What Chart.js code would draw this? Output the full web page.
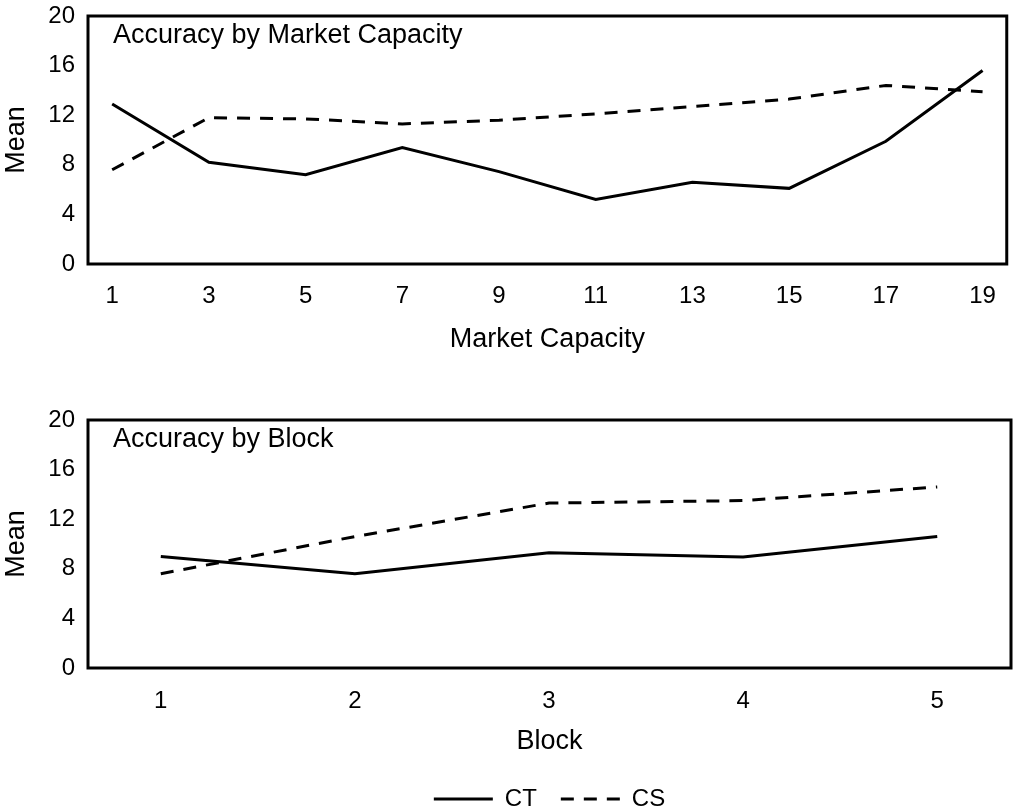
<!DOCTYPE html>
<html>
<head>
<meta charset="utf-8">
<script src="https://cdn.jsdelivr.net/npm/chart.js@4.4.1/dist/chart.umd.min.js"></script>
<style>
  html, body { margin: 0; padding: 0; background: #fff; overflow: hidden; }
  .panel { position: absolute; left: 0; width: 1014px; }
  #topBox { top: 0; height: 356px; }
  #bottomBox { top: 404px; height: 417px; }
</style>
</head>
<body>
<div class="panel" id="topBox"><canvas id="capacityChart"></canvas></div>
<div class="panel" id="bottomBox"><canvas id="blockChart"></canvas></div>
<script>
// values
const capacityLevels = [1, 3, 5, 7, 9, 11, 13, 15, 17, 19];
const ctByCapacity = [12.9, 8.2, 7.2, 9.4, 7.45, 5.2, 6.6, 6.1, 9.9, 15.6];
const csByCapacity = [7.6, 11.8, 11.7, 11.3, 11.6, 12.1, 12.7, 13.3, 14.4, 13.9];

const blocks = [1, 2, 3, 4, 5];
const ctByBlock = [9.0, 7.6, 9.3, 8.95, 10.6];
const csByBlock = [7.6, 10.6, 13.3, 13.5, 14.6];

const meanTicks = [0, 4, 8, 12, 16, 20];

const FONT = "'Liberation Sans', Arial, Helvetica, sans-serif";
Chart.defaults.font.family = FONT;
Chart.defaults.color = '#000';
Chart.defaults.animation = false;

// frame round the plot area + panel title inside it
const framePlugin = {
  id: 'frame',
  afterDatasetsDraw(chart, args, opts) {
    const {ctx, chartArea: a} = chart;
    ctx.save();
    ctx.strokeStyle = '#000';
    ctx.lineWidth = 3;
    ctx.setLineDash([]);
    ctx.strokeRect(a.left, a.top, a.right - a.left, a.bottom - a.top);
    ctx.fillStyle = '#000';
    ctx.font = '27px ' + FONT;
    ctx.textBaseline = 'alphabetic';
    ctx.fillText(opts.text, a.left + 25, a.top + 27);
    ctx.restore();
  }
};

function toPoints(xs, ys) {
  return xs.map((x, i) => ({x: x, y: ys[i]}));
}

function makeDatasets(xs, ct, cs) {
  return [
    {
      label: 'CT',
      data: toPoints(xs, ct),
      borderColor: '#000',
      borderWidth: 3,
      pointRadius: 0,
      tension: 0,
    },
    {
      label: 'CS',
      data: toPoints(xs, cs),
      borderColor: '#000',
      borderWidth: 3,
      borderDash: [13, 10],
      pointRadius: 0,
      tension: 0,
    },
  ];
}

function makeOptions(cfg) {
  return {
    responsive: true,
    maintainAspectRatio: false,
    layout: { padding: { top: 16, right: 3, left: 0, bottom: 0 } },
    plugins: {
      legend: cfg.legend,
      tooltip: { enabled: false },
      frame: { text: cfg.title },
    },
    scales: {
      x: {
        type: 'linear',
        min: cfg.xMin,
        max: cfg.xMax,
        grid: { display: false, drawTicks: false },
        border: { display: false },
        afterBuildTicks: scale => { scale.ticks = cfg.xTicks.map(v => ({value: v})); },
        afterFit: scale => { scale.height = cfg.xHeight; },
        ticks: { font: { size: 24 }, padding: cfg.tickPad, maxRotation: 0, autoSkip: false },
        title: { display: true, text: cfg.xTitle, font: { size: 27 }, padding: { top: 0, bottom: cfg.titlePadBottom } },
      },
      y: {
        min: 0,
        max: 20,
        grid: { display: false, drawTicks: false },
        border: { display: false },
        afterBuildTicks: scale => { scale.ticks = meanTicks.map(v => ({value: v})); },
        afterFit: scale => {
          scale.width = 88;
          scale.paddingTop = 0;
          scale.paddingBottom = 0;
        },
        ticks: { font: { size: 24 }, padding: 13 },
        title: { display: true, text: 'Mean', font: { size: 27 }, padding: 0 },
      },
    },
  };
}

new Chart(document.getElementById('capacityChart'), {
  type: 'line',
  data: { datasets: makeDatasets(capacityLevels, ctByCapacity, csByCapacity) },
  options: makeOptions({
    title: 'Accuracy by Market Capacity',
    xTitle: 'Market Capacity',
    xMin: 0.5, xMax: 19.5,
    xTicks: capacityLevels,
    xHeight: 92, tickPad: 18, titlePadBottom: 0,
    legend: { display: false },
  }),
  plugins: [framePlugin],
});

new Chart(document.getElementById('blockChart'), {
  type: 'line',
  data: { datasets: makeDatasets(blocks, ctByBlock, csByBlock) },
  options: makeOptions({
    title: 'Accuracy by Block',
    xTitle: 'Block',
    xMin: 0.625, xMax: 5.38,
    xTicks: blocks,
    xHeight: 95, tickPad: 19, titlePadBottom: 5,
    legend: {
      display: true,
      position: 'bottom',
      fullSize: false,
      labels: {
        usePointStyle: true,
        pointStyleWidth: 59,
        padding: 24,
        font: { size: 24 },
        generateLabels: chart => chart.data.datasets.map((ds, i) => ({
          text: ds.label,
          datasetIndex: i,
          pointStyle: 'line',
          strokeStyle: '#000',
          fillStyle: '#000',
          fontColor: '#000',
          lineWidth: 3,
          lineDash: ds.borderDash || [],
          hidden: false,
        })),
      },
    },
  }),
  plugins: [framePlugin],
});
</script>
</body>
</html>
